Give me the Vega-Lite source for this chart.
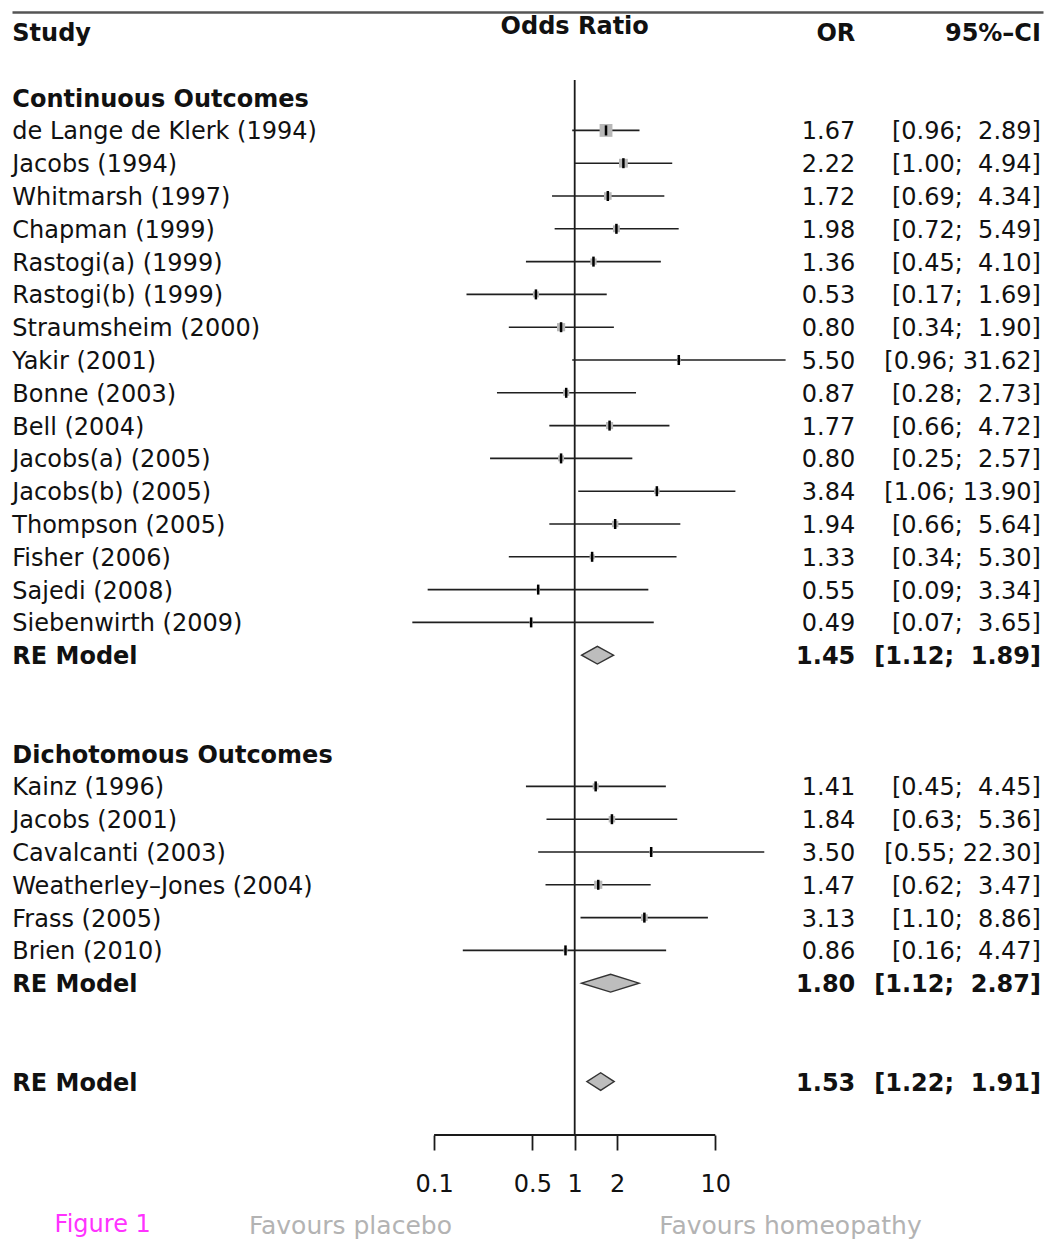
{
  "$schema": "https://vega.github.io/schema/vega-lite/v6.json",
  "width": 1031,
  "height": 1229,
  "autosize": {"type": "none"},
  "padding": {"left": 12, "top": 12, "right": 5, "bottom": 0},
  "background": "white",
  "config": {
    "view": {"stroke": null},
    "axis": {"grid": false},
    "text": {"font": "DejaVu Sans", "fontSize": 24, "baseline": "middle", "dy": 2}
  },
  "resolve": {"axis": {"x": "independent"}},
  "datasets": {
    "rows": [
      {"row": 0, "kind": "head", "label": "Study", "orHead": "OR", "ciHead": "95%–CI", "plotHead": "Odds Ratio"},
      {"row": 2, "kind": "group", "label": "Continuous Outcomes"},
      {"row": 3, "kind": "study", "label": "de Lange de Klerk (1994)", "or": 1.67, "lo": 0.96, "hi": 2.89, "w": 3.56},
      {"row": 4, "kind": "study", "label": "Jacobs (1994)", "or": 2.22, "lo": 1.00, "hi": 4.94, "w": 2.46},
      {"row": 5, "kind": "study", "label": "Whitmarsh (1997)", "or": 1.72, "lo": 0.69, "hi": 4.34, "w": 2.13},
      {"row": 6, "kind": "study", "label": "Chapman (1999)", "or": 1.98, "lo": 0.72, "hi": 5.49, "w": 1.93},
      {"row": 7, "kind": "study", "label": "Rastogi(a) (1999)", "or": 1.36, "lo": 0.45, "hi": 4.10, "w": 1.77},
      {"row": 8, "kind": "study", "label": "Rastogi(b) (1999)", "or": 0.53, "lo": 0.17, "hi": 1.69, "w": 1.71},
      {"row": 9, "kind": "study", "label": "Straumsheim (2000)", "or": 0.80, "lo": 0.34, "hi": 1.90, "w": 2.28},
      {"row": 10, "kind": "study", "label": "Yakir (2001)", "or": 5.50, "lo": 0.96, "hi": 31.62, "w": 1.12},
      {"row": 11, "kind": "study", "label": "Bonne (2003)", "or": 0.87, "lo": 0.28, "hi": 2.73, "w": 1.72},
      {"row": 12, "kind": "study", "label": "Bell (2004)", "or": 1.77, "lo": 0.66, "hi": 4.72, "w": 1.99},
      {"row": 13, "kind": "study", "label": "Jacobs(a) (2005)", "or": 0.80, "lo": 0.25, "hi": 2.57, "w": 1.68},
      {"row": 14, "kind": "study", "label": "Jacobs(b) (2005)", "or": 3.84, "lo": 1.06, "hi": 13.90, "w": 1.52},
      {"row": 15, "kind": "study", "label": "Thompson (2005)", "or": 1.94, "lo": 0.66, "hi": 5.64, "w": 1.83},
      {"row": 16, "kind": "study", "label": "Fisher (2006)", "or": 1.33, "lo": 0.34, "hi": 5.30, "w": 1.43},
      {"row": 17, "kind": "study", "label": "Sajedi (2008)", "or": 0.55, "lo": 0.09, "hi": 3.34, "w": 1.08},
      {"row": 18, "kind": "study", "label": "Siebenwirth (2009)", "or": 0.49, "lo": 0.07, "hi": 3.65, "w": 0.99},
      {"row": 19, "kind": "summary", "label": "RE Model", "or": 1.45, "lo": 1.12, "hi": 1.89},
      {"row": 22, "kind": "group", "label": "Dichotomous Outcomes"},
      {"row": 23, "kind": "study", "label": "Kainz (1996)", "or": 1.41, "lo": 0.45, "hi": 4.45, "w": 1.71},
      {"row": 24, "kind": "study", "label": "Jacobs (2001)", "or": 1.84, "lo": 0.63, "hi": 5.36, "w": 1.83},
      {"row": 25, "kind": "study", "label": "Cavalcanti (2003)", "or": 3.50, "lo": 0.55, "hi": 22.30, "w": 1.06},
      {"row": 26, "kind": "study", "label": "Weatherley–Jones (2004)", "or": 1.47, "lo": 0.62, "hi": 3.47, "w": 2.28},
      {"row": 27, "kind": "study", "label": "Frass (2005)", "or": 3.13, "lo": 1.10, "hi": 8.86, "w": 1.88},
      {"row": 28, "kind": "study", "label": "Brien (2010)", "or": 0.86, "lo": 0.16, "hi": 4.47, "w": 1.18},
      {"row": 29, "kind": "summary", "label": "RE Model", "or": 1.80, "lo": 1.12, "hi": 2.87},
      {"row": 32, "kind": "summary", "label": "RE Model", "or": 1.53, "lo": 1.22, "hi": 1.91}
    ]
  },
  "layer": [
    {
      "data": {"values": [{}]},
      "mark": {"type": "rule", "color": "#1a1a1a", "strokeWidth": 1.8},
      "encoding": {
        "x": {
          "datum": 1, "type": "quantitative",
          "scale": {"type": "log", "domain": [0.00009952, 2141.5], "nice": false},
          "axis": {"orient": "top", "domain": true, "domainColor": "#555", "domainWidth": 2.5, "ticks": false, "labels": false, "title": null, "grid": false}
        },
        "y": {
          "datum": 1.463, "type": "quantitative",
          "scale": {"domain": [-0.61, 36.86], "reverse": true, "nice": false, "zero": false},
          "axis": {"orient": "right", "domain": true, "domainColor": "#1a1a1a", "domainWidth": 2, "ticks": false, "labels": false, "title": null, "grid": false}
        },
        "y2": {"datum": 33.628}
      }
    },
    {
      "data": {"values": [{}]},
      "mark": {"type": "rule", "color": "#1a1a1a", "strokeWidth": 1.8},
      "encoding": {
        "x": {"datum": 0.1, "type": "quantitative", "axis": null},
        "x2": {"datum": 10},
        "y": {"datum": 33.628, "type": "quantitative", "axis": null}
      }
    },
    {
      "data": {"name": "rows"},
      "transform": [{"filter": "datum.kind === 'study'"}],
      "mark": {"type": "rule", "color": "#1f1f1f", "strokeWidth": 1.6},
      "encoding": {
        "x": {
          "field": "lo", "type": "quantitative",
          "axis": {"orient": "bottom", "offset": -106, "values": [0.1, 0.5, 1, 2, 10], "format": "~g", "domain": false, "ticks": true, "tickSize": 15, "tickColor": "#1a1a1a", "tickWidth": 1.8, "labelFont": "DejaVu Sans", "labelFontSize": 24, "labelColor": "#111", "labelPadding": 22, "labelFlush": false, "labelOverlap": false, "title": null, "grid": false}
        },
        "x2": {"field": "hi"},
        "y": {"field": "row", "type": "quantitative", "axis": null}
      }
    },
    {
      "data": {"name": "rows"},
      "transform": [{"filter": "datum.kind === 'study'"}],
      "mark": {"type": "square", "filled": true, "color": "#b8b8b8", "opacity": 1},
      "encoding": {
        "x": {"field": "or", "type": "quantitative", "axis": null},
        "y": {"field": "row", "type": "quantitative", "axis": null},
        "size": {"field": "w", "type": "quantitative", "scale": {"type": "pow", "exponent": 2, "domain": [0.9, 3.6], "range": [9, 169]}, "legend": null}
      }
    },
    {
      "data": {"name": "rows"},
      "transform": [{"filter": "datum.kind === 'study'"}],
      "mark": {"type": "tick", "orient": "vertical", "color": "#000", "size": 10, "thickness": 2.5, "opacity": 1},
      "encoding": {
        "x": {"field": "or", "type": "quantitative", "axis": null},
        "y": {"field": "row", "type": "quantitative", "axis": null}
      }
    },
    {
      "data": {"name": "rows"},
      "transform": [
        {"filter": "datum.kind === 'summary'"},
        {"fold": ["lo", "or", "hi"], "as": ["key", "v"]},
        {"calculate": "datum.key === 'or' ? datum.row - 0.27 : datum.row", "as": "yt"},
        {"calculate": "datum.key === 'or' ? datum.row + 0.27 : datum.row", "as": "yb"}
      ],
      "mark": {"type": "area", "orient": "vertical", "fill": "#bdbdbd", "stroke": "#333", "strokeWidth": 1.4, "opacity": 1},
      "encoding": {
        "x": {"field": "v", "type": "quantitative", "axis": null},
        "y": {"field": "yt", "type": "quantitative", "axis": null},
        "y2": {"field": "yb"},
        "detail": {"field": "row", "type": "nominal"}
      }
    },
    {
      "data": {"name": "rows"},
      "transform": [{"filter": "datum.kind === 'study'"}],
      "mark": {"type": "text", "align": "left", "color": "#111"},
      "encoding": {
        "x": {"datum": 0.0001, "type": "quantitative", "axis": null},
        "y": {"field": "row", "type": "quantitative", "axis": null},
        "text": {"field": "label"}
      }
    },
    {
      "data": {"name": "rows"},
      "transform": [{"filter": "datum.kind !== 'study'"}],
      "mark": {"type": "text", "align": "left", "color": "#111", "fontWeight": "bold"},
      "encoding": {
        "x": {"datum": 0.0001, "type": "quantitative", "axis": null},
        "y": {"field": "row", "type": "quantitative", "axis": null},
        "text": {"field": "label"}
      }
    },
    {
      "data": {"name": "rows"},
      "transform": [
        {"filter": "datum.kind === 'study'"},
        {"calculate": "format(datum.or, '.2f')", "as": "orT"},
        {"calculate": "'[' + format(datum.lo, '.2f') + ';' + (datum.hi < 10 ? '\u00a0\u00a0' : '\u00a0') + format(datum.hi, '.2f') + ']'", "as": "ciT"}
      ],
      "layer": [
        {
          "mark": {"type": "text", "align": "right", "color": "#111"},
          "encoding": {
            "x": {"datum": 99, "type": "quantitative", "axis": null},
            "y": {"field": "row", "type": "quantitative", "axis": null},
            "text": {"field": "orT"}
          }
        },
        {
          "mark": {"type": "text", "align": "right", "color": "#111"},
          "encoding": {
            "x": {"datum": 2070, "type": "quantitative", "axis": null},
            "y": {"field": "row", "type": "quantitative", "axis": null},
            "text": {"field": "ciT"}
          }
        }
      ]
    },
    {
      "data": {"name": "rows"},
      "transform": [
        {"filter": "datum.kind === 'summary' || datum.kind === 'head'"},
        {"calculate": "datum.kind === 'head' ? datum.orHead : format(datum.or, '.2f')", "as": "orT"},
        {"calculate": "datum.kind === 'head' ? datum.ciHead : '[' + format(datum.lo, '.2f') + ';' + (datum.hi < 10 ? '\u00a0\u00a0' : '\u00a0') + format(datum.hi, '.2f') + ']'", "as": "ciT"}
      ],
      "layer": [
        {
          "mark": {"type": "text", "align": "right", "color": "#111", "fontWeight": "bold"},
          "encoding": {
            "x": {"datum": 99, "type": "quantitative", "axis": null},
            "y": {"field": "row", "type": "quantitative", "axis": null},
            "text": {"field": "orT"}
          }
        },
        {
          "mark": {"type": "text", "align": "right", "color": "#111", "fontWeight": "bold"},
          "encoding": {
            "x": {"datum": 2070, "type": "quantitative", "axis": null},
            "y": {"field": "row", "type": "quantitative", "axis": null},
            "text": {"field": "ciT"}
          }
        }
      ]
    },
    {
      "data": {"name": "rows"},
      "transform": [{"filter": "datum.kind === 'head'"}],
      "mark": {"type": "text", "align": "center", "color": "#111", "fontWeight": "bold"},
      "encoding": {
        "x": {"datum": 1, "type": "quantitative", "axis": null},
        "y": {"datum": -0.2, "type": "quantitative", "axis": null},
        "text": {"field": "plotHead"}
      }
    },
    {
      "data": {"values": [{"t": "Figure 1"}]},
      "mark": {"type": "text", "align": "left", "color": "#ff33ff", "fontSize": 24},
      "encoding": {
        "x": {"datum": 0.0002, "type": "quantitative", "axis": null},
        "y": {"datum": 36.3, "type": "quantitative", "axis": null},
        "text": {"field": "t"}
      }
    },
    {
      "data": {"values": [{"t": "Favours placebo"}]},
      "mark": {"type": "text", "align": "center", "color": "#b3b3b3", "fontSize": 25},
      "encoding": {
        "x": {"datum": 0.0254, "type": "quantitative", "axis": null},
        "y": {"datum": 36.33, "type": "quantitative", "axis": null},
        "text": {"field": "t"}
      }
    },
    {
      "data": {"values": [{"t": "Favours homeopathy"}]},
      "mark": {"type": "text", "align": "center", "color": "#b3b3b3", "fontSize": 25},
      "encoding": {
        "x": {"datum": 34.3, "type": "quantitative", "axis": null},
        "y": {"datum": 36.33, "type": "quantitative", "axis": null},
        "text": {"field": "t"}
      }
    }
  ]
}
